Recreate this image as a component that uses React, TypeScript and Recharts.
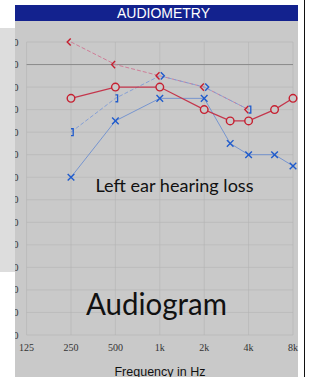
import React from 'react';
import { ScatterChart, Scatter, XAxis, YAxis, CartesianGrid, ReferenceLine } from 'recharts';

// ---- data ----
const frequencyTicks = [125, 250, 500, 1000, 2000, 4000, 8000];
const frequencyLabels = ['125', '250', '500', '1k', '2k', '4k', '8k'];
const levelTicks = [-10, 0, 10, 20, 30, 40, 50, 60, 70, 80, 90, 100, 110, 120];

// right ear, air conduction (O)
const rightAirFreq = [250, 500, 1000, 2000, 3000, 4000, 6000, 8000];
const rightAirDb = [15, 10, 10, 20, 25, 25, 20, 15];
// left ear, air conduction (X)
const leftAirFreq = [250, 500, 1000, 2000, 3000, 4000, 6000, 8000];
const leftAirDb = [50, 25, 15, 15, 35, 40, 40, 45];
// right ear, bone conduction (<)
const rightBoneFreq = [250, 500, 1000, 2000, 4000];
const rightBoneDb = [-10, 0, 5, 10, 20];
// left ear, bone conduction (> unmasked, ] masked)
const leftBoneFreq = [250, 500, 1000, 2000, 4000];
const leftBoneDb = [30, 15, 5, 10, 20];
const leftBoneSymbol = [']', ']', '>', '>', ']'];

const toPoints = (f: number[], d: number[], s?: string[]) =>
  f.map((hz, i) => ({ hz, db: d[i], symbol: s ? s[i] : '' }));

const rightAir = toPoints(rightAirFreq, rightAirDb);
const leftAir = toPoints(leftAirFreq, leftAirDb);
const rightBone = toPoints(rightBoneFreq, rightBoneDb);
const leftBone = toPoints(leftBoneFreq, leftBoneDb, leftBoneSymbol);

const RED = '#c61f30';
const BLUE = '#1f5bcc';
const PLOT_BG = '#c9c9c9';

const freqLabel = (v: number) => {
  const i = frequencyTicks.indexOf(v);
  return i >= 0 ? frequencyLabels[i] : String(v);
};

const Empty = () => <g />;

const CircleMark = (p: any) =>
  p.cx == null ? null : (
    <circle cx={p.cx} cy={p.cy} r={3.8} fill={PLOT_BG} stroke={RED} strokeWidth={1.4} />
  );

const CrossMark = (p: any) => {
  if (p.cx == null) return null;
  const s = 3.3;
  const { cx, cy } = p;
  return (
    <g stroke={BLUE} strokeWidth={1.4}>
      <line x1={cx - s} y1={cy - s} x2={cx + s} y2={cy + s} />
      <line x1={cx - s} y1={cy + s} x2={cx + s} y2={cy - s} />
    </g>
  );
};

const LessMark = (p: any) => {
  if (p.cx == null) return null;
  const { cx, cy } = p;
  return (
    <polyline
      points={`${cx - 0.3},${cy - 3.6} ${cx - 3.8},${cy} ${cx - 0.3},${cy + 3.6}`}
      fill="none"
      stroke={RED}
      strokeWidth={1.4}
    />
  );
};

const LeftBoneMark = (p: any) => {
  if (p.cx == null) return null;
  const { cx, cy } = p;
  const sym = p.payload && p.payload.symbol;
  if (sym === '>') {
    return (
      <polyline
        points={`${cx + 1},${cy - 3.6} ${cx + 4.5},${cy} ${cx + 1},${cy + 3.6}`}
        fill="none"
        stroke={BLUE}
        strokeWidth={1.4}
      />
    );
  }
  return (
    <polyline
      points={`${cx},${cy - 3.4} ${cx + 2.2},${cy - 3.4} ${cx + 2.2},${cy + 3.4} ${cx},${cy + 3.4}`}
      fill="none"
      stroke={BLUE}
      strokeWidth={1.3}
    />
  );
};

export default function App() {
  return (
    <div
      style={{
        position: 'absolute',
        left: 0,
        top: 0,
        width: 309,
        height: 377,
        background: '#ffffff',
        overflow: 'hidden',
      }}
    >
      {/* plot panel background */}
      <div style={{ position: 'absolute', left: 15, top: 20, width: 283, height: 357, background: PLOT_BG }} />
      {/* title bar */}
      <div style={{ position: 'absolute', left: 15, top: 5, width: 283, height: 16, background: '#13228e' }} />
      {/* right border line */}
      <div style={{ position: 'absolute', left: 303.5, top: 0, width: 1.5, height: 377, background: '#111' }} />

      <div style={{ position: 'absolute', left: 0, top: 0 }}>
        <ScatterChart width={309} height={377} margin={{ top: 42, right: 16, bottom: 12, left: 6.6 }}>
          <CartesianGrid stroke="#b3b3b3" strokeWidth={0.6} />
          <ReferenceLine y={0} stroke="#8c8c8c" strokeWidth={1} />
          <XAxis
            type="number"
            dataKey="hz"
            scale="log"
            domain={[125, 8000]}
            ticks={frequencyTicks}
            interval={0}
            tickFormatter={freqLabel}
            axisLine={false}
            tickLine={false}
            tickSize={6}
            tickMargin={3}
            height={30}
            tick={{ fontFamily: 'Liberation Serif', fontSize: 10, fill: '#333' }}
          />
          <YAxis
            type="number"
            dataKey="db"
            domain={[-10, 120]}
            reversed
            ticks={levelTicks}
            interval={0}
            axisLine={false}
            tickLine={false}
            tickSize={6}
            tickMargin={2}
            width={20}
            tick={{ fontFamily: 'Liberation Serif', fontSize: 10, fill: '#333' }}
          />
          {/* connecting lines */}
          <Scatter data={rightBone} shape={Empty} line={{ stroke: '#cf7d97', strokeWidth: 1, strokeDasharray: '4 2' }} isAnimationActive={false} />
          <Scatter data={leftBone} shape={Empty} line={{ stroke: '#7f9bd6', strokeWidth: 0.9, strokeDasharray: '4 2' }} isAnimationActive={false} />
          <Scatter data={leftAir} shape={Empty} line={{ stroke: '#6d8fcf', strokeWidth: 0.9 }} isAnimationActive={false} />
          <Scatter data={rightAir} shape={Empty} line={{ stroke: '#c4364c', strokeWidth: 1.2 }} isAnimationActive={false} />
          {/* markers */}
          <Scatter data={rightBone} shape={LessMark} isAnimationActive={false} />
          <Scatter data={leftBone} shape={LeftBoneMark} isAnimationActive={false} />
          <Scatter data={leftAir} shape={CrossMark} isAnimationActive={false} />
          <Scatter data={rightAir} shape={CircleMark} isAnimationActive={false} />
        </ScatterChart>
      </div>

      {/* left side light panel (covers clipped y labels) */}
      <div style={{ position: 'absolute', left: 0, top: 0, width: 15, height: 377, background: '#ffffff' }} />
      <div style={{ position: 'absolute', left: 0, top: 28, width: 15, height: 244, background: '#dddddd' }} />

      <svg
        width={309}
        height={377}
        style={{ position: 'absolute', left: 0, top: 0, pointerEvents: 'none' }}
      >
        <text x={163.5} y={18} textAnchor="middle" fill="#ffffff" fontFamily="Liberation Sans" fontSize={14}>
          AUDIOMETRY
        </text>
        <text
          x={174.5}
          y={192}
          textAnchor="middle"
          fill="#111"
          fontFamily="Lato"
          fontSize={18}
          textLength={158}
          lengthAdjust="spacingAndGlyphs"
        >
          Left ear hearing loss
        </text>
        <text
          x={156.5}
          y={315}
          textAnchor="middle"
          fill="#111"
          fontFamily="Lato"
          fontSize={30}
          textLength={141}
          lengthAdjust="spacingAndGlyphs"
        >
          Audiogram
        </text>
        <text x={160} y={375.5} textAnchor="middle" fill="#111" fontFamily="Liberation Sans" fontSize={12.5}>
          Frequency in Hz
        </text>
      </svg>
    </div>
  );
}
